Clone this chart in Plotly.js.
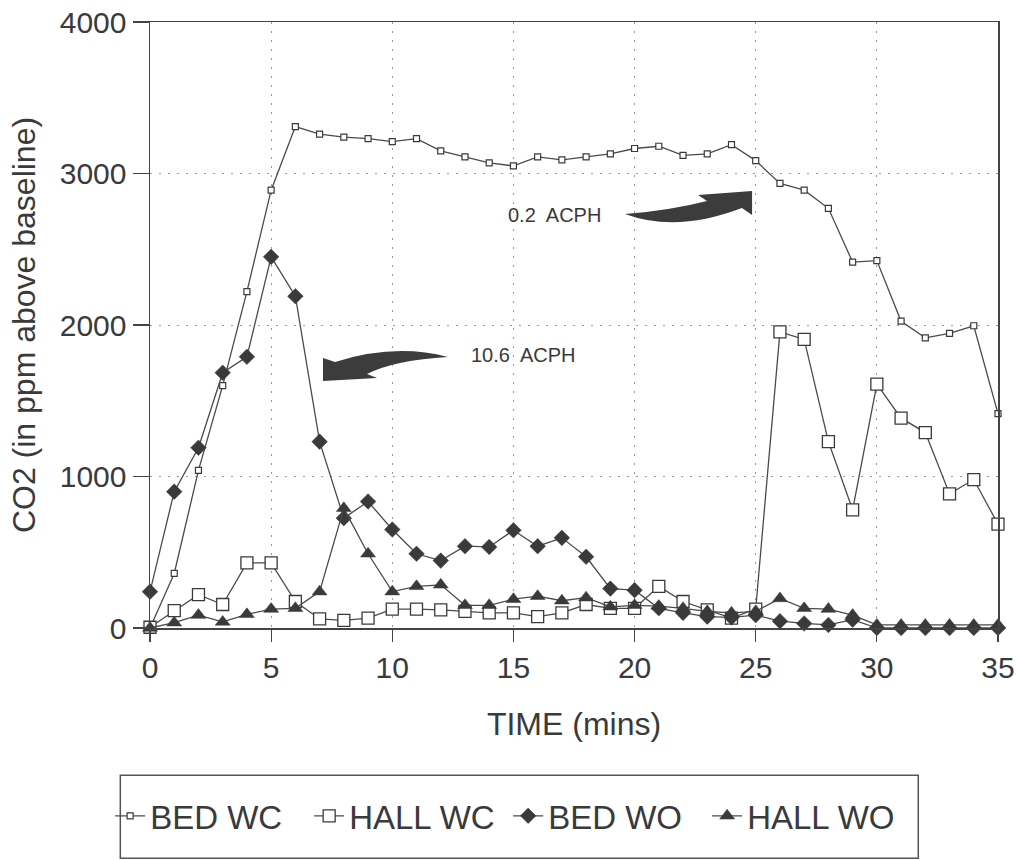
<!DOCTYPE html>
<html>
<head>
<meta charset="utf-8">
<script src="https://cdn.plot.ly/plotly-3.0.1.min.js"></script>
<style>html,body{margin:0;padding:0;background:#fff;}#chart{width:1017px;height:860px;}</style>
</head>
<body>
<div id="chart"></div>
<script>
// Time (minutes)
const timeMins = [0,1,2,3,4,5,6,7,8,9,10,11,12,13,14,15,16,17,18,19,20,21,22,23,24,25,26,27,28,29,30,31,32,33,34,35];

// CO2 in ppm above baseline
const bedWC  = [0,360,1040,1600,2220,2890,3310,3260,3240,3230,3210,3230,3150,3110,3070,3050,3110,3090,3110,3130,3165,3180,3120,3130,3190,3085,2935,2890,2770,2415,2425,2025,1915,1945,1995,1415];
const hallWC = [5,115,220,155,430,430,175,60,50,65,125,125,120,110,100,100,75,100,155,130,130,275,175,120,65,125,1955,1905,1230,780,1610,1385,1290,885,980,685];
const bedWO  = [240,900,1190,1685,1790,2450,2190,1230,725,835,650,490,445,540,535,645,540,595,470,260,250,130,100,75,70,85,45,30,20,55,0,0,0,0,0,0];
const hallWO = [0,35,85,40,90,125,130,240,790,490,240,275,285,150,150,190,210,180,200,140,150,145,130,110,100,110,195,130,125,85,20,20,20,20,20,20];

const seriesNames = ["BED WC","HALL WC","BED WO","HALL WO"];
const xTickVals = [0,5,10,15,20,25,30,35];
const yTickVals = [0,1000,2000,3000,4000];

const ink = "#3a3a3a";
const lineCol = "#4a4a4a";
const font = "Liberation Sans, Arial, Helvetica, sans-serif";

function tr(name, y, symbol, size, fill, lw) {
  return {
    type: "scatter", mode: "lines+markers", name: name,
    x: timeMins, y: y, cliponaxis: false,
    line: {color: lineCol, width: 1.3},
    marker: {symbol: symbol, size: size, color: fill, line: {color: ink, width: lw}}
  };
}

const data = [
  tr(seriesNames[0], bedWC, "square", 6, "#ffffff", 1.2),
  tr(seriesNames[1], hallWC, "square", 12, "#ffffff", 1.3),
  tr(seriesNames[2], bedWO, "diamond", 12, ink, 0.5),
  tr(seriesNames[3], hallWO, "triangle-up", 13, ink, 0.5)
];

const layout = {
  width: 1017, height: 860,
  margin: {l: 150, r: 19, t: 22, b: 232},
  paper_bgcolor: "#ffffff", plot_bgcolor: "#ffffff",
  font: {family: font, color: ink},
  showlegend: true,
  legend: {
    orientation: "h", x: -0.047, xanchor: "left", y: -0.31, yanchor: "middle",
    font: {size: 33, family: font, color: ink}, bgcolor: "rgba(0,0,0,0)",
    borderwidth: 0, itemwidth: 30, entrywidth: 154, entrywidthmode: "pixels"
  },
  xaxis: {
    range: [0, 35], tickvals: xTickVals, ticktext: xTickVals.map(String),
    showline: true, mirror: true, linecolor: "#444", linewidth: 1.5,
    ticks: "outside", ticklen: 12, tickcolor: "#444", tickwidth: 1.2,
    tickfont: {size: 30, family: font, color: ink},
    showgrid: true, gridcolor: "#9a9a9a", gridwidth: 1, griddash: "2px,7px",
    zeroline: false,
    title: {text: "TIME (mins)", font: {size: 32, family: font, color: ink}, standoff: 30}
  },
  yaxis: {
    range: [0, 4000], tickvals: yTickVals, ticktext: yTickVals.map(String),
    showline: true, mirror: true, linecolor: "#444", linewidth: 1.5,
    ticks: "outside", ticklen: 16, tickcolor: "#444", tickwidth: 1.2,
    tickfont: {size: 30, family: font, color: ink},
    showgrid: true, gridcolor: "#9a9a9a", gridwidth: 1, griddash: "2px,7px",
    zeroline: false,
    title: {text: "CO2 (in ppm above baseline)", font: {size: 32, family: font, color: ink}, standoff: 14}
  },
  annotations: [
    {x: 16.7, y: 2726, xref: "x", yref: "y", text: "0.2  ACPH", showarrow: false,
     font: {size: 20, family: font, color: ink}},
    {x: 15.4, y: 1800, xref: "x", yref: "y", text: "10.6  ACPH", showarrow: false,
     font: {size: 20, family: font, color: ink}}
  ],
  shapes: [
    {type: "path", xref: "x", yref: "y", fillcolor: "#3c3c3c", line: {width: 0},
     path: "M 19.60,2733 Q 21.46,2756 22.99,2819 L 22.62,2858 L 24.85,2885 L 24.85,2726 L 24.43,2772 Q 21.73,2607 19.60,2733 Z"},
    {type: "path", xref: "x", yref: "y", fillcolor: "#3c3c3c", line: {width: 0},
     path: "M 12.30,1789 Q 10.11,1881 7.64,1756 L 7.14,1782 L 7.14,1630 L 9.37,1650 L 8.96,1677 Q 10.11,1769 12.30,1789 Z"},
    {type: "rect", xref: "paper", yref: "paper", x0: -0.035, x1: 0.906, y0: -0.38, y1: -0.243,
     line: {color: "#555", width: 1.5}, fillcolor: "rgba(0,0,0,0)"}
  ]
};

Plotly.newPlot("chart", data, layout, {displayModeBar: false, staticPlot: true});
</script>
</body>
</html>
